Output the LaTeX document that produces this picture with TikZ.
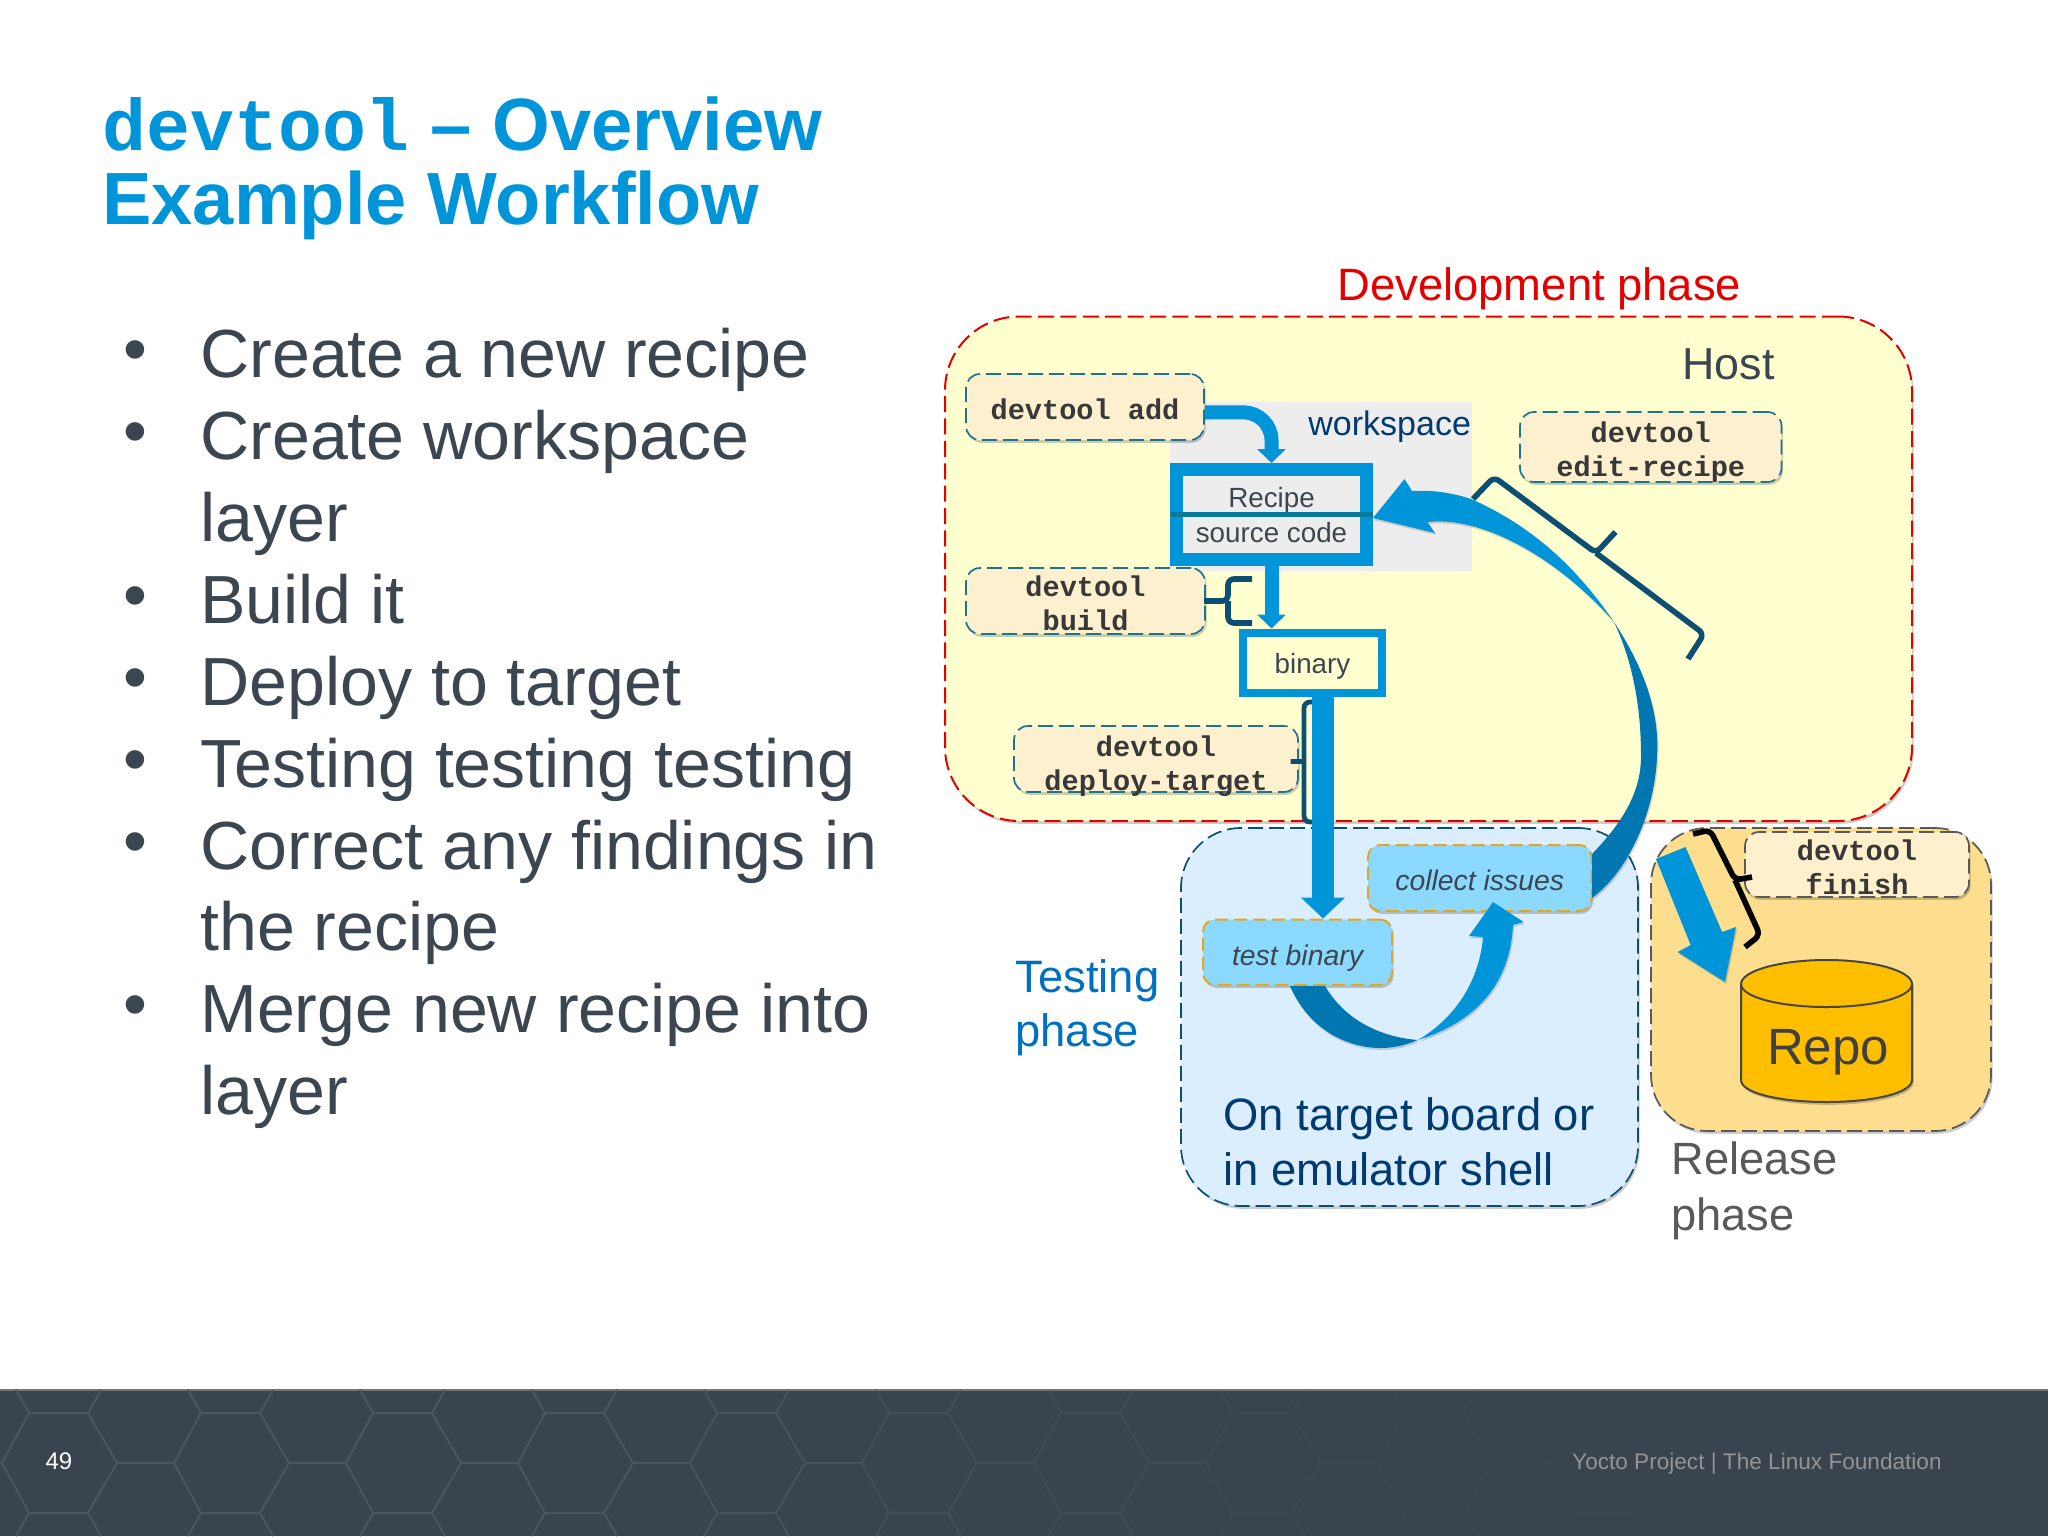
\documentclass[tikz,border=0pt]{standalone}
\usepackage{fontspec}
\setmainfont{Liberation Sans}
\newfontfamily\monof{Liberation Mono}
\usetikzlibrary{arrows.meta,shadows,calc}
\definecolor{lfblue}{HTML}{0095D8}
\definecolor{lfdark}{HTML}{0077B0}
\definecolor{slate}{HTML}{3C4650}
\definecolor{footer}{HTML}{39444E}
\definecolor{hexline}{HTML}{4B565F}
\definecolor{navy}{HTML}{003A70}
\definecolor{braceblue}{HTML}{0D4F72}
\definecolor{stepfill}{HTML}{8CD9FF}
\definecolor{stepline}{HTML}{E0A820}
\definecolor{devfill}{HTML}{FFFFD0}
\definecolor{tstfill}{HTML}{DBEEFF}
\definecolor{relfill}{HTML}{FCDE8E}
\definecolor{cmdfill}{HTML}{FDF0CF}
\definecolor{finfill}{HTML}{FEF0CC}
\definecolor{cmdline}{HTML}{1F7391}
\definecolor{repofill}{HTML}{FFBF00}
\definecolor{tphase}{HTML}{0070C0}
\definecolor{divider}{HTML}{0B7A9C}
\newcommand{\fsz}[2]{\fontsize{#1pt}{#2pt}\selectfont}
\newcommand{\dn}[1]{\rule{0pt}{#1pt}}
\newcommand{\bxnode}[7]{%
  \pgfmathsetmacro\cw{abs(#5-#3)*0.5}%
  \pgfmathsetmacro\ch{abs(#6-#4)*0.5}%
  \node[#1,minimum width=\cw pt,minimum height=\ch pt] (#2) at ({(#3+#5)/2},{(#4+#6)/2}) {#7};}
\tikzset{
  softshadow/.style={drop shadow={shadow xshift=0.8pt,shadow yshift=-1.4pt,opacity=.2,fill=black}},
  region/.style={rectangle,inner sep=0pt,line width=0.85pt,dash pattern=on 7.5pt off 3pt,softshadow},
  cmdbox/.style={region,rounded corners=7pt,draw=cmdline,fill=cmdfill,align=center,text=black!78,
     font=\monof\bfseries\fsz{14.3}{17}},
  stepbox/.style={rectangle,inner sep=0pt,rounded corners=6pt,fill=stepfill,draw=stepline,line width=1pt,
     dash pattern=on 6.5pt off 3pt,softshadow,font=\itshape\fsz{14.2}{17},text=slate,align=center},
  storebox/.style={rectangle,inner sep=0pt,draw=lfblue,align=center,text=slate,font=\fsz{13.9}{17.5}},
  flow/.style={draw=lfblue},
  bracket/.style={draw=braceblue,line width=2.8pt,rounded corners=3pt,line cap=butt},
  ribbon/.style={drop shadow={shadow xshift=0.6pt,shadow yshift=-1pt,opacity=.15,fill=black}},
  hexgrid/.style={draw=hexline,line width=1pt},
  txt/.style={anchor=base west,inner sep=0pt},
  bul/.style={txt,font=\fsz{34.05}{40},text=slate},
  bulmark/.style={anchor=base,inner sep=0pt,font=\fsz{34.05}{40},text=slate},
}
\begin{document}
\begin{tikzpicture}[x=0.5pt,y=-0.5pt]
\useasboundingbox (0,0) rectangle (2048,1536);
\fill[white] (0,0) rectangle (2048,1536);

% footer
\fill[footer] (0,1390) rectangle (2048,1536);
\draw[black!55,line width=0.7pt] (0,1390) -- (2048,1390);
\foreach \k/\op in {-1/1,0/1,1/1,2/1,3/.95,4/.8,5/.6,6/.4,7/.25,8/.15,9/.08,10/.04}{
  \pgfmathsetmacro\xz{29+172*\k}
  \begin{scope}[shift={(\xz,0)}]
  \draw[hexgrid,opacity=\op,line join=round]
    (-13,1390) -- (0,1413) -- (59,1413) -- (72,1390)
    (0,1413) -- (-27,1463)
    (59,1413) -- (88,1463) -- (145,1463)
    (0,1513) -- (-27,1463)
    (88,1463) -- (59,1513) -- (0,1513) -- (-13,1536)
    (59,1513) -- (72,1536);
  \end{scope}
}
\node[anchor=center,inner sep=0pt,text=white,font=\fsz{12}{14}] (pg) at (59,1461) {49};
\node[anchor=base east,inner sep=0pt,text=black!42!white,font=\fsz{11.3}{14}] (ft) at (1942,1469) {Yocto Project | The Linux Foundation};

% title
\node[txt,text=lfblue,font=\bfseries\fsz{37.1}{40}] (t1) at (102,150) {{\monof\fsz{36.6}{40}devtool} – Overview};
\node[txt,text=lfblue,font=\bfseries\fsz{37}{40}] (t2) at (102,224) {Example Workflow};

% bullets
\node[bul] (b0) at (200,377) {Create a new recipe};
\node[bul] (b1) at (200,459) {Create workspace};
\node[bul] (b2) at (200,541) {layer};
\node[bul] (b3) at (200,623) {Build it};
\node[bul] (b4) at (200,705) {Deploy to target};
\node[bul] (b5) at (200,787) {Testing testing testing};
\node[bul] (b6) at (200,869) {Correct any findings in};
\node[bul] (b7) at (200,950) {the recipe};
\node[bul] (b8) at (200,1032) {Merge new recipe into};
\node[bul] (b9) at (200,1114) {layer};
\foreach \n/\yy in {0/372,1/454,3/618,4/700,5/782,6/864,8/1027}{
  \node[bulmark] (d\n) at (135,\yy) {\textbullet};
}

% regions
\bxnode{region,line width=1pt,dash pattern=on 8pt off 3.2pt,rounded corners=37pt,draw=red!90!black,fill=devfill}{dev}{945}{316.5}{1912}{821}{}
\fill[black!7!white] (1170,401.5) rectangle (1471.5,571);
\bxnode{region,rounded corners=30pt,draw=braceblue,fill=tstfill}{tst}{1181}{828}{1638}{1206}{}
\bxnode{region,rounded corners=28pt,draw=black!65,fill=relfill}{rel}{1651}{828}{1991}{1131}{}

% phase labels
\node[txt,text=red!90!black,font=\fsz{22.7}{26}] (l1) at (1337,300) {Development phase};
\node[txt,text=slate,font=\fsz{22.4}{26}] (l2) at (1682,379) {Host};
\node[txt,text=navy,font=\fsz{17}{20}] (l3) at (1308,435) {workspace};
\node[txt,text=tphase,font=\fsz{22.7}{28.5},align=left] (l4) at (1015,992) {Testing};
\node[txt,text=tphase,font=\fsz{22.7}{28.5},align=left] (l5) at (1015,1046) {phase};
\node[txt,text=navy,font=\fsz{22.7}{27}] (l6) at (1223,1130) {On target board or};
\node[txt,text=navy,font=\fsz{22.7}{27}] (l7) at (1223,1185) {in emulator shell};
\node[txt,text=black!65,font=\fsz{22.6}{27}] (l8) at (1671,1174) {Release};
\node[txt,text=black!65,font=\fsz{22.6}{27}] (l9) at (1671,1230) {phase};

% commands
\bxnode{cmdbox}{add}{966}{374}{1204}{440}{\dn{12.5}devtool add}
\bxnode{cmdbox}{build}{966}{568}{1205}{634}{\dn{13}devtool\\build}
\bxnode{cmdbox}{deploy}{1014}{726}{1298}{792}{\dn{14}devtool\\\smash{deploy-target}}
\bxnode{cmdbox}{edit}{1520}{412}{1781.5}{482}{\dn{15}devtool\\edit-recipe}
\bxnode{cmdbox,draw=black!65,fill=finfill}{finish}{1745}{832}{1969}{897}{\dn{13}devtool\\finish}

% stores
\bxnode{storebox,line width=6.5pt}{recipe}{1176.5}{469.5}{1366.5}{559.5}{\dn{11}Recipe\\source code}
\draw[draw=divider,line width=2.4pt] (recipe.west) -- (recipe.east);
\bxnode{storebox,line width=4pt}{binary}{1243}{632.5}{1382}{693}{\dn{14}binary}

% test steps
\bxnode{stepbox}{test}{1203}{919.5}{1392}{985}{\dn{16.6}test binary}
\bxnode{stepbox}{collect}{1368}{845}{1591.5}{911}{\dn{12.9}collect issues}

% braces
\draw[bracket] (1252,579) -- (1228,579) -- (1228,601) -- (1204,601) (1228,601) -- (1228,623) -- (1252,623);
\draw[bracket,line width=2.4pt] (1315,702) -- (1304,702) -- (1304,822) -- (1315,822) (1304,761.5) -- (1290.5,761.5);
\draw[bracket] (1473,499) -- (1494,477) -- (1596,553) -- (1615.5,532) (1596,553) -- (1704,634) -- (1688,659);
\draw[bracket,draw=black] (1693,834) -- (1710,830) -- (1735,880) -- (1752,877) (1735,880) -- (1760,935) -- (1745,947);

% straight connectors
\draw[flow,line width=7pt,rounded corners=14pt,-{Triangle[length=7pt,width=14pt]}]
  ([yshift=-2.7pt]add.east) -| (recipe.north);
\draw[flow,line width=7pt,-{Triangle[length=7pt,width=14pt]}] (recipe.south) -- (recipe.south |- binary.north);
\coordinate (dx) at (1323,700);
\draw[flow,line width=11pt,-{Triangle[length=10.5pt,width=21.5pt]}] (binary.south -| dx) -- (test.north -| dx);

% ribbon connectors
\fill[lfdark,ribbon] (1290,986) .. controls (1310,1032) and (1350,1048) .. (1381,1048)
   .. controls (1396,1048) and (1408,1044) .. (1418,1040)
   .. controls (1380,1037) and (1345,1020) .. (1325,986) -- cycle;
\fill[lfblue,ribbon] (1418,1040) .. controls (1475,1022) and (1510,985) .. (1513,925)
   -- (1523.5,922) -- (1493,902) -- (1469,936) -- (1483,937)
   .. controls (1480,975) and (1460,1015) .. (1418,1040) -- cycle;
\fill[lfdark,ribbon] (1614,622) .. controls (1642,665) and (1660,710) .. (1657,756)
   .. controls (1655,810) and (1630,870) .. (1592,898) -- (1592,854)
   .. controls (1625,820) and (1641,790) .. (1641,756)
   .. controls (1641,705) and (1632,660) .. (1614,622) -- cycle;
\fill[lfblue,ribbon] (1614,622) .. controls (1575,565) and (1530,525) .. (1471,499)
   .. controls (1450,492) and (1430,490) .. (1412,491) -- (1404.5,479) -- (1373,518) -- (1435,533)
   -- (1427.5,522) .. controls (1480,516) and (1555,555) .. (1614,622) -- cycle;

% release arrow
\fill[lfblue,ribbon] (1656,859) -- (1685.5,847) -- (1722,932) -- (1736,927) -- (1725,982) -- (1677.6,952) -- (1690.6,945) -- cycle;

% repo
\draw[fill=repofill,draw=black!72,line width=1pt,softshadow]
  (1741,984) -- (1741,1080) .. controls (1741,1093) and (1779.5,1102) .. (1826.5,1102)
  .. controls (1873.5,1102) and (1912,1093) .. (1912,1080) -- (1912,984)
  .. controls (1912,971) and (1873.5,960) .. (1826.5,960)
  .. controls (1779.5,960) and (1741,971) .. (1741,984) -- cycle;
\draw[draw=black!72,line width=1pt] (1741,984) .. controls (1741,997) and (1779.5,1007) .. (1826.5,1007)
  .. controls (1873.5,1007) and (1912,997) .. (1912,984);
\node[inner sep=0pt,text=black!75,font=\fsz{25.5}{28}] (repo) at (1828,1052) {Repo};
\end{tikzpicture}
\end{document}
